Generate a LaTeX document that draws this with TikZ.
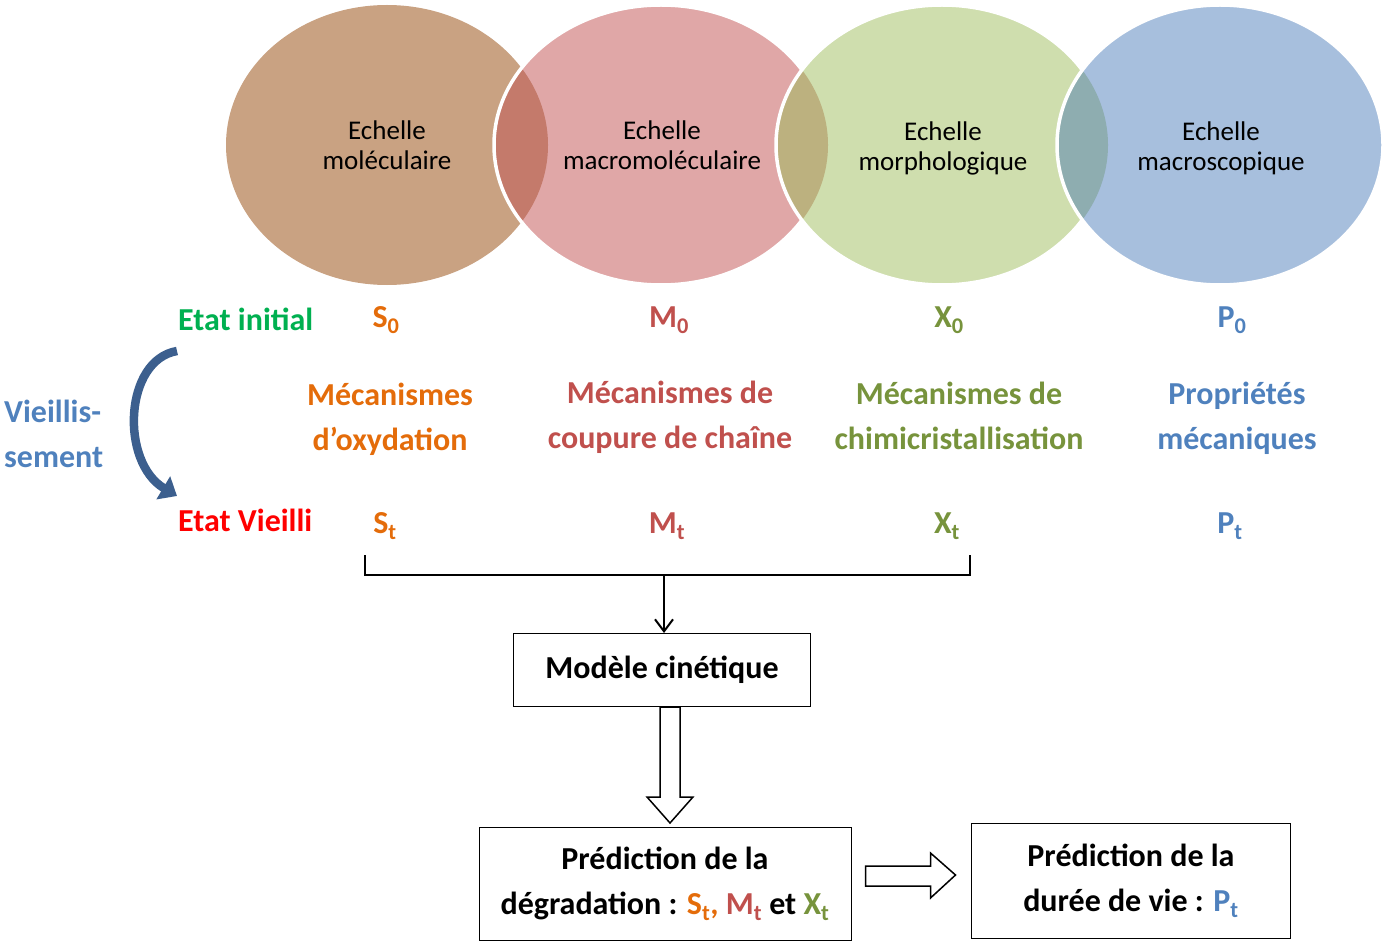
\documentclass[tikz,border=0pt]{standalone}
\usepackage{fontspec}
\setmainfont{Carlito}
\usepackage{xcolor}
\usetikzlibrary{positioning, arrows.meta, calc}
\definecolor{molfill}{HTML}{C9A282}
\definecolor{macfill}{HTML}{E0A7A7}
\definecolor{morfill}{HTML}{CFDEAE}
\definecolor{scafill}{HTML}{A7BFDD}
\definecolor{molmac}{HTML}{C47A6B}
\definecolor{macmor}{HTML}{BCB17F}
\definecolor{morsca}{HTML}{8EADB0}
\definecolor{orangeS}{HTML}{E46C0A}
\definecolor{redM}{HTML}{C0504D}
\definecolor{greenX}{HTML}{77933C}
\definecolor{blueP}{HTML}{4F81BD}
\definecolor{greenI}{HTML}{00B050}
\definecolor{arrowblue}{HTML}{3C5F8E}
\tikzstyle{block}=[draw, rectangle, line width=1pt, font=\bfseries\fontsize{32}{45}\selectfont, align=center]
\tikzstyle{echelle}=[font=\fontsize{27}{30}\selectfont, align=center]
\tikzstyle{state}=[font=\bfseries\fontsize{32}{38}\selectfont, inner sep=0pt]
\tikzstyle{meca}=[font=\bfseries\fontsize{32}{45}\selectfont, align=center, inner sep=0pt]
\tikzstyle{hollow}=[draw, line width=1.5pt, fill=white, line join=miter]
\def\sub#1{\textsubscript{#1}}

\begin{document}
\begin{tikzpicture}[x=1pt, y=-1pt]
		\useasboundingbox (0,0) rectangle (1383,941);
		% the four scales
		\fill[molfill] (387,145) ellipse [x radius=161, y radius=140];
		\fill[macfill] (661,145) ellipse [x radius=167, y radius=140];
		\begin{scope}
			\clip (387,145) ellipse [x radius=161, y radius=140];
			\fill[molmac] (661,145) ellipse [x radius=167, y radius=140];
		\end{scope}
		\draw[white, line width=3.5pt] (661,145) ellipse [x radius=167, y radius=140];
		\fill[morfill] (942,145) ellipse [x radius=166, y radius=140];
		\begin{scope}
			\clip (661,145) ellipse [x radius=167, y radius=140];
			\fill[macmor] (942,145) ellipse [x radius=166, y radius=140];
		\end{scope}
		\draw[white, line width=3.5pt] (942,145) ellipse [x radius=166, y radius=140];
		\fill[scafill] (1220,145) ellipse [x radius=163, y radius=140];
		\begin{scope}
			\clip (942,145) ellipse [x radius=166, y radius=140];
			\fill[morsca] (1220,145) ellipse [x radius=163, y radius=140];
		\end{scope}
		\draw[white, line width=3.5pt] (1220,145) ellipse [x radius=163, y radius=140];
		\node[echelle] (mol) at (387,145) {Echelle\\mol\'eculaire};
		\node[echelle] (mac) at (662,145) {Echelle\\macromol\'eculaire};
		\node[echelle] (mor) at (943,148) {Echelle\\morphologique};
		\node[echelle] (sca) at (1221,148) {Echelle\\macroscopique};
		% states
		\node[state, anchor=west, text=greenI] (init) at (178,319) {Etat initial};
		\node[state, text=orangeS] (S0) at (386,320) {S\sub{0}};
		\node[state, text=redM] (M0) at (669,320) {M\sub{0}};
		\node[state, text=greenX] (X0) at (949,320) {X\sub{0}};
		\node[state, text=blueP] (P0) at (1232,320) {P\sub{0}};
		\node[meca, text=orangeS] (oxy) at (390,419) {M\'ecanismes\\d'oxydation};
		\node[meca, text=redM] (coup) at (670,417) {M\'ecanismes de\\coupure de cha\^ine};
		\node[meca, text=greenX] (chimi) at (959,416) {M\'ecanismes de\\chimicristallisation};
		\node[meca, text=blueP] (prop) at (1237,418) {Propri\'et\'es\\m\'ecaniques};
		\node[meca, anchor=west, align=left, text=blueP] (vieil) at (4,434) {Vieillis-\\sement};
		\node[state, anchor=west, text=red] (aged) at (178,520) {Etat Vieilli};
		\node[state, text=orangeS] (St) at (385,526) {S\sub{t}};
		\node[state, text=redM] (Mt) at (667,526) {M\sub{t}};
		\node[state, text=greenX] (Xt) at (947,526) {X\sub{t}};
		\node[state, text=blueP] (Pt) at (1230,526) {P\sub{t}};
		% ageing arrow
		\coordinate (agetop) at (177,351);
		\coordinate (agebot) at (177,496);
		\draw[arrowblue, line width=8.5pt, -{Triangle[length=16pt, width=26pt]}] (agetop) .. controls (124,360) and (120,462) .. (agebot);
		% boxes
		\node[block, minimum width=297, minimum height=73] (kin) at (662,670) {Mod\`ele cin\'etique};
		\node[block, minimum width=372, minimum height=113] (pred) at (665,884) {Pr\'ediction de la\\d\'egradation : \textcolor{orangeS}{S\sub{t}, }\textcolor{redM}{M\sub{t}} et \textcolor{greenX}{X\sub{t}}};
		\node[block, minimum width=319, minimum height=115] (life) at (1131,881) {Pr\'ediction de la\\dur\'ee de vie : \textcolor{blueP}{P\sub{t}}};
		% bracket
		\coordinate (brl) at (365,555);
		\coordinate (brr) at (970,555);
		\coordinate (brk) at (664,575);
		\draw[line width=2.5pt] (brl) -- (365,575) -- (970,575) -- (brr);
		\draw[line width=2pt, -{Straight Barb[length=12pt, width=18pt]}] (brk) -- (kin.north -| brk);
		% block arrows
		\draw[hollow] ($(kin.south)+(-2,0)$) -- ($(kin.south)+(-2,90)$) -- ($(kin.south)+(-15,90)$) -- ($(kin.south)+(8,116)$) -- ($(kin.south)+(31,90)$) -- ($(kin.south)+(18,90)$) -- ($(kin.south)+(18,0)$) -- cycle;
		\draw[hollow] ($(pred.east)+(14,-18)$) -- ($(pred.east)+(79,-18)$) -- ($(pred.east)+(79,-31)$) -- ($(pred.east)+(104,-9)$) -- ($(pred.east)+(79,14)$) -- ($(pred.east)+(79,2)$) -- ($(pred.east)+(14,2)$) -- cycle;
	\end{tikzpicture}
\end{document}
